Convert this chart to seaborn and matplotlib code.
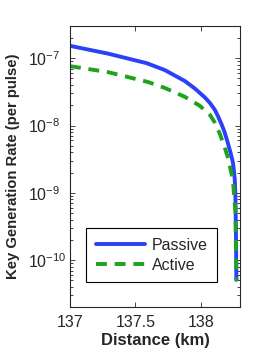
import numpy as np
import pandas as pd
import matplotlib
matplotlib.use("Agg")
from matplotlib import pyplot as plt
import seaborn as sns

# values (distance in km, rate per pulse)
passive_km = [137.0, 137.290, 137.588, 137.725, 137.878, 137.954, 138.031,
              138.069, 138.107, 138.130, 138.160, 138.183, 138.206, 138.229,
              138.247, 138.260, 138.265, 138.269, 138.2725]
passive_rate = [1.528e-7, 1.172e-7, 8.43e-8, 6.67e-8, 4.59e-8, 3.56e-8, 2.62e-8,
                2.18e-8, 1.72e-8, 1.40e-8, 1.035e-8, 7.89e-9, 5.62e-9, 3.87e-9,
                2.76e-9, 1.61e-9, 9.04e-10, 2.96e-10, 5.08e-11]

active_km = [137.0, 137.290, 137.595, 137.725, 137.878, 137.992, 138.069,
             138.107, 138.145, 138.183, 138.214, 138.247, 138.265, 138.2725]
active_rate = [7.62e-8, 6.22e-8, 4.44e-8, 3.62e-8, 2.67e-8, 1.97e-8, 1.45e-8,
               1.11e-8, 7.62e-9, 4.74e-9, 3.05e-9, 1.45e-9, 5.26e-10, 4.91e-11]

labels = ["Passive", "Active"]
x_ticks = [137, 137.5, 138]
x_tick_labels = ["137", "137.5", "138"]

df = pd.concat([
    pd.DataFrame({"km": passive_km, "rate": passive_rate, "scheme": labels[0]}),
    pd.DataFrame({"km": active_km, "rate": active_rate, "scheme": labels[1]}),
])

sns.set_style("ticks")
plt.rcParams['font.family'] = ['Liberation Sans', 'DejaVu Sans']
plt.rcParams['mathtext.fontset'] = 'custom'
plt.rcParams['mathtext.rm'] = 'Liberation Sans'
plt.rcParams['mathtext.it'] = 'Liberation Sans'

fig = plt.figure(figsize=(2.64, 3.53), dpi=100)
ax = fig.add_axes([0.265, 0.13, 0.644, 0.796])

colors = {"Passive": "#2B40F8", "Active": "#1FA31F"}
sns.lineplot(data=df, x="km", y="rate", hue="scheme", style="scheme",
             palette=colors, dashes={"Passive": "", "Active": (2.8, 2.0)},
             linewidth=2.8, ax=ax, sort=False, estimator=None)

ax.set_yscale("log")
ax.set_xlim(137, 138.3)
ax.set_ylim(2e-11, 3e-7)
ax.set_xticks(x_ticks)
ax.set_xticklabels(x_tick_labels)
ax.set_yticks([1e-10, 1e-9, 1e-8, 1e-7])

ax.tick_params(which="both", direction="in", top=True, right=True,
               labelsize=11.5, width=0.6)
ax.tick_params(which="major", length=3.5)
ax.tick_params(which="minor", length=2)
ax.tick_params(axis="x", pad=6)
# MATLAB-style: exponent labels left-aligned on the "10"
ax.tick_params(axis="y", pad=30)
for t in ax.get_yticklabels():
    t.set_horizontalalignment("left")
for s in ax.spines.values():
    s.set_linewidth(0.8)

ax.set_xlabel("Distance (km)", fontsize=12, fontweight="bold", labelpad=2)
ax.set_ylabel("Key Generation Rate (per pulse)", fontsize=10.7,
              fontweight="bold", labelpad=6)

leg = ax.legend(loc="lower center", bbox_to_anchor=(0.482, 0.06), fontsize=11.5,
                fancybox=False, framealpha=1, edgecolor="black",
                handlelength=3.1, borderpad=0.6, labelspacing=0.3,
                handletextpad=0.4)
leg.get_frame().set_linewidth(0.8)

fig.savefig("out.png", dpi=100)
